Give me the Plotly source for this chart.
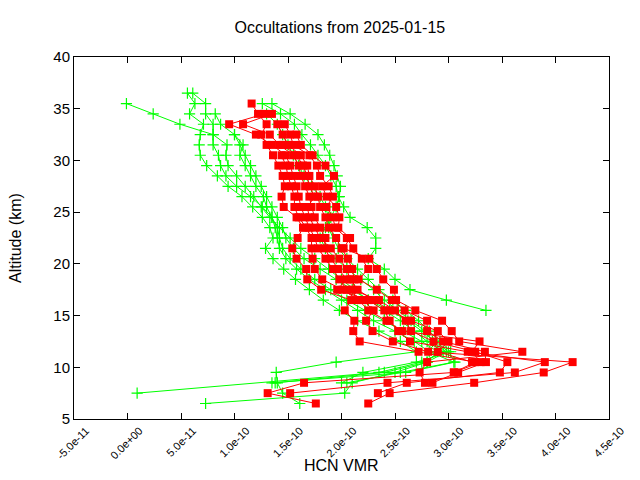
import plotly.graph_objects as go

# Altitude grid (km), top to bottom
ALT = [36.5 - i for i in range(31)]  # 36.5 ... 6.5

N = None
# HCN VMR values in units of 1e-10, aligned with ALT (None = no sample)
g1 = [N, -0.01, 0.24, 0.49, 0.80, 0.93, 0.92, 0.94, 1.02, 1.10, 1.18, 1.25, 1.33, 1.42, 1.52, 1.62, 1.75, 1.88, 2.00, 2.12, 2.25, 2.40, 2.55, 2.68, 2.80, 2.95, 2.75, 2.35, N, 0.09, N]
g2 = [0.56, 0.63, 0.58, 0.71, 0.68, 0.67, 0.68, 0.74, 0.84, 0.94, 1.07, 1.17, 1.26, 1.33, 1.36, 1.29, 1.36, 1.46, 1.57, 1.70, 1.83, 1.98, 2.15, 2.35, 2.55, 2.70, 1.95, 1.39, 1.40, 1.45, 1.61]
g3 = [N, 1.26, 1.43, 1.56, 1.63, 1.71, 1.78, 1.85, 1.90, 1.95, 1.97, 2.02, 2.08, 2.24, 2.32, 2.32, 2.25, 2.40, 2.50, 2.64, 2.98, 3.35, N, N, N, N, N, N, N, N, N]
g4 = [0.61, 0.73, 0.73, 0.80, 0.80, 0.80, 0.85, 0.87, 0.92, 1.02, 1.15, 1.26, 1.35, 1.40, 1.42, 1.45, 1.52, 1.62, 1.75, 1.90, 2.05, 2.22, 2.40, 2.58, 2.75, 2.90, 2.80, 2.50, 2.10, 2.03, 0.73]
g5 = [N, N, 0.82, 0.87, 1.00, 1.05, 1.10, 1.15, 1.20, 1.25, 1.30, 1.35, 1.40, 1.45, 1.48, 1.55, 1.65, 1.80, 1.95, 2.10, 2.25, 2.45, 2.62, 2.75, 2.88, 3.00, 3.06, 2.60, 1.35, N, N]
g6 = [N, 1.35, 1.52, 1.66, 1.78, 1.84, 1.89, 1.93, 1.96, 1.99, 1.98, 1.95, 1.90, 1.88, 1.92, 1.97, 2.05, 2.15, 2.25, 2.35, 2.48, 2.60, 2.72, 2.82, 2.92, 3.02, 2.70, 2.20, 2.00, N, N]
g7 = [N, N, 1.30, 1.40, 1.45, 1.50, 1.55, 1.60, 1.65, 1.72, 1.80, 1.85, 1.88, 1.85, 1.80, 1.85, 1.95, 2.05, 2.18, 2.30, 2.40, 2.52, 2.65, 2.78, 2.85, 2.98, 2.80, 2.40, 1.38, N, N]
g8 = [N, N, N, N, 1.00, 1.08, 1.05, 1.10, 1.15, 1.20, 1.27, 1.30, 1.35, 1.38, 1.40, 1.42, 1.48, 1.58, 1.70, 1.85, 2.00, 2.15, 2.30, 2.50, 2.68, 2.82, 3.05, 2.55, 2.05, N, N]

r1 = [N, 1.16, 1.22, 1.30, 1.25, 1.30, 1.36, 1.41, 1.45, 1.47, 1.44, 1.46, 1.58, 1.64, 1.59, 1.54, 1.58, 1.67, 1.68, 1.81, 2.09, 2.03, 2.12, 2.11, 2.17, 2.72, 3.25, 3.05, 1.65, 1.31, 1.76]
r2 = [N, N, 1.28, 0.95, 1.20, 1.35, 1.48, 1.52, 1.55, 1.58, 1.60, 1.62, 1.66, 1.70, 1.75, 1.78, 1.85, 1.92, 1.98, 2.05, 2.20, 2.30, 2.23, 2.29, 2.48, 2.81, 4.16, 3.89, 3.24, 2.45, 2.25]
r3 = [N, N, 1.35, 1.08, 1.33, 1.42, 1.55, 1.60, 1.62, 1.66, 1.70, 1.72, 1.75, 1.80, 1.85, 1.84, 1.90, 1.97, 2.05, 1.96, 2.25, 2.40, 2.45, 2.53, 2.64, 3.18, 3.90, 3.62, 2.43, 1.52, N]
r4 = [N, N, N, 1.40, 1.45, 1.50, 1.62, 1.68, 1.70, 1.75, 1.78, 1.80, 1.85, 1.88, 1.95, 2.00, 2.06, 2.10, 2.12, 2.10, 2.35, 2.50, 2.60, 2.65, 2.86, 3.25, 3.55, 3.48, 2.61, 2.34, N]
r5 = [N, N, N, 1.47, 1.52, 1.55, 1.70, 1.77, 1.80, 1.88, 1.92, 1.86, 1.92, 1.94, 2.05, 2.11, 2.19, 2.25, 2.16, 2.33, 2.47, 2.59, 2.80, 2.80, 2.95, 3.34, 3.35, 3.09, 2.85, N, N]
r6 = [N, N, N, N, 1.58, 1.62, 1.73, 1.85, 1.93, 1.82, 1.86, 1.95, 1.98, 1.97, 2.08, 2.02, 2.26, 2.33, 2.39, 2.49, 2.51, 2.69, 2.94, 3.03, 3.10, 3.69, 2.80, 2.73, 2.78, N, N]
r7 = [N, N, N, N, N, N, 1.44, 1.48, 1.50, 1.53, 1.56, 1.56, 1.60, 1.67, 1.72, 1.72, 1.73, 1.75, 1.82, 2.01, 2.16, 2.25, 2.42, 2.57, 3.29, 3.22, 3.30, 3.05, N, N, N]
r8 = [N, N, N, N, N, 1.45, 1.58, 1.64, 1.68, 1.70, 1.75, 1.68, 1.70, 1.75, 1.80, 1.90, 1.98, 2.05, 2.08, 2.15, 2.30, 2.45, 2.65, 2.90, 3.00, 2.90, 3.22, N, N, N, N]

green_profiles = [g1, g2, g3, g4, g5, g6, g7, g8]
red_profiles = [r1, r2, r3, r4, r5, r6, r7, r8]

x_tick_vals = [-0.5, 0.0, 0.5, 1.0, 1.5, 2.0, 2.5, 3.0, 3.5, 4.0, 4.5]
x_tick_text = ["-5.0e-11", "0.0e+00", "5.0e-11", "1.0e-10", "1.5e-10", "2.0e-10",
               "2.5e-10", "3.0e-10", "3.5e-10", "4.0e-10", "4.5e-10"]
y_tick_vals = [5, 10, 15, 20, 25, 30, 35, 40]

SCALE = 1e-10
FONT = "Liberation Sans, Arial, sans-serif"

def pts(vals):
    xs, ys = [], []
    for a, v in zip(ALT, vals):
        if v is not None:
            xs.append(v * SCALE)
            ys.append(a)
    return xs, ys

fig = go.Figure()
for prof in green_profiles:
    xs, ys = pts(prof)
    fig.add_trace(go.Scatter(
        x=xs, y=ys, mode="lines+markers",
        line=dict(color="#00ff00", width=1),
        marker=dict(symbol="cross-thin", size=8, color="#00ff00",
                    line=dict(width=1.2, color="#00ff00")),
        showlegend=False, hoverinfo="skip"))
for prof in red_profiles:
    xs, ys = pts(prof)
    fig.add_trace(go.Scatter(
        x=xs, y=ys, mode="lines+markers",
        line=dict(color="#ff0000", width=1),
        marker=dict(symbol="square", size=8, color="#ff0000", line=dict(width=0)),
        showlegend=False, hoverinfo="skip"))

fig.update_layout(
    width=640, height=480,
    margin=dict(l=74, r=31, t=57, b=61),
    paper_bgcolor="white", plot_bgcolor="white",
    font=dict(family=FONT, color="black", size=14),
    title=dict(text="Occultations from 2025-01-15", x=0.531, xanchor="center",
               y=1 - 27 / 480, yanchor="middle", yref="container",
               font=dict(size=16, family=FONT)),
    showlegend=False,
)
fig.update_xaxes(
    range=[-0.5 * SCALE, 4.5 * SCALE],
    tickvals=[v * SCALE for v in x_tick_vals], ticktext=x_tick_text,
    tickangle=-45, tickfont=dict(size=11, family=FONT),
    ticklabelshift=12,
    ticks="inside", ticklen=6, tickcolor="black", tickwidth=1,
    showline=True, linecolor="black", linewidth=1, mirror="ticks",
    showgrid=False, zeroline=False,
)
fig.update_yaxes(
    range=[5, 40], tickvals=y_tick_vals,
    tickfont=dict(size=15, family=FONT),
    ticks="inside", ticklen=6, tickcolor="black", tickwidth=1,
    showline=True, linecolor="black", linewidth=1, mirror="ticks",
    showgrid=False, zeroline=False,
)
fig.add_annotation(text="HCN VMR", xref="paper", yref="paper",
                   x=0.5, y=-(465 - 419) / 362, xanchor="center", yanchor="middle",
                   showarrow=False, font=dict(size=16, family=FONT))
fig.add_annotation(text="Altitude (km)", xref="paper", yref="paper",
                   x=-(74 - 15) / 535, y=0.5, xanchor="center", yanchor="middle",
                   textangle=-90, showarrow=False, font=dict(size=16, family=FONT))

fig.write_html("out.html")
